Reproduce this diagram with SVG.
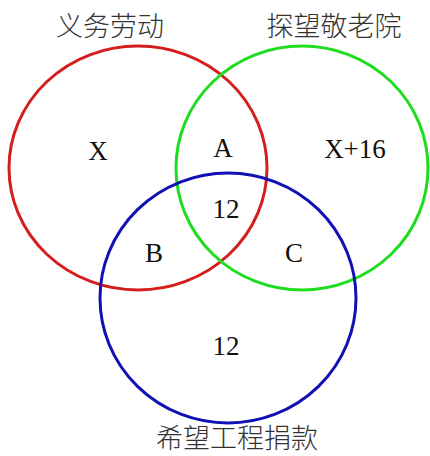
<svg xmlns="http://www.w3.org/2000/svg" width="430" height="456" viewBox="0 0 430 456">
<style>
.c{fill:none;stroke-width:3}
.t{font-family:"Noto Sans CJK SC",sans-serif;font-size:27px;font-weight:300;fill:#333;text-anchor:middle}
.l{font-family:"Liberation Serif",serif;font-size:27px;fill:#111;text-anchor:middle}
</style>
<rect width="430" height="456" fill="#fff"/>
<g id="connectors"></g>
<g id="labor">
<ellipse class="c" cx="138" cy="168" rx="129" ry="122" stroke="#d41e1e"/>
<text class="t" x="110" y="36">义务劳动</text>
</g>
<g id="visit">
<ellipse class="c" cx="302" cy="168" rx="126" ry="122" stroke="#1edc1e"/>
<text class="t" x="334" y="36">探望敬老院</text>
</g>
<g id="donate">
<ellipse class="c" cx="228" cy="298" rx="128" ry="125" stroke="#1010b4"/>
<text class="t" x="237" y="448">希望工程捐款</text>
</g>
<g id="labels">
<text class="l" x="98" y="160">X</text>
<text class="l" x="223" y="157">A</text>
<text class="l" x="355" y="158">X+16</text>
<text class="l" x="226" y="218">12</text>
<text class="l" x="154" y="262">B</text>
<text class="l" x="294" y="262">C</text>
<text class="l" x="226" y="355">12</text>
</g>
</svg>
